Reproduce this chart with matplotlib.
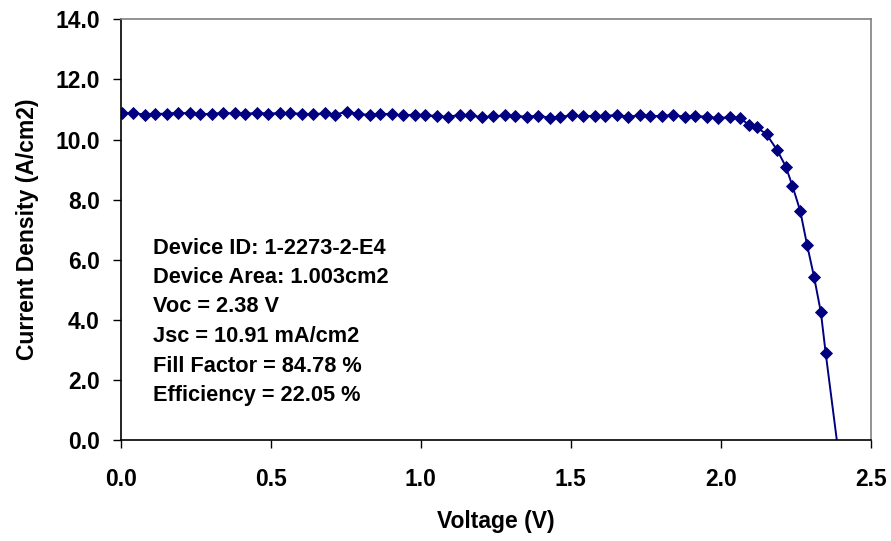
import matplotlib
matplotlib.use("Agg")
import matplotlib.pyplot as plt
from matplotlib.ticker import FormatStrFormatter

# --------------------------
# J-V DATA
# --------------------------
voltage = [0.005, 0.04, 0.08, 0.115, 0.155, 0.19, 0.23, 0.265, 0.305, 0.34,
           0.38, 0.415, 0.455, 0.49, 0.53, 0.565, 0.605, 0.64, 0.68, 0.715,
           0.755, 0.79, 0.83, 0.865, 0.905, 0.94, 0.98, 1.015, 1.055, 1.09,
           1.13, 1.165, 1.205, 1.24, 1.28, 1.315, 1.355, 1.39, 1.43, 1.465,
           1.505, 1.54, 1.58, 1.615, 1.655, 1.69, 1.73, 1.765, 1.805, 1.84,
           1.88, 1.915, 1.955, 1.99, 2.03, 2.065,
           2.094, 2.12, 2.153, 2.188, 2.217, 2.239, 2.265, 2.288, 2.311, 2.334,
           2.35, 2.387]
current = [10.87, 10.88, 10.83, 10.85, 10.86, 10.89, 10.87, 10.84, 10.86, 10.88,
           10.87, 10.85, 10.89, 10.86, 10.88, 10.87, 10.86, 10.84, 10.87, 10.83,
           10.93, 10.85, 10.82, 10.86, 10.84, 10.80, 10.83, 10.81, 10.78, 10.75,
           10.82, 10.80, 10.74, 10.77, 10.80, 10.78, 10.76, 10.79, 10.73, 10.76,
           10.80, 10.77, 10.79, 10.78, 10.82, 10.76, 10.80, 10.77, 10.79, 10.81,
           10.76, 10.79, 10.75, 10.72, 10.74, 10.72,
           10.48, 10.41, 10.17, 9.65, 9.10, 8.46, 7.63, 6.49, 5.44, 4.25,
           2.89, 0.0]

info_lines = ["Device ID: 1-2273-2-E4",
              "Device Area: 1.003cm2",
              "Voc = 2.38 V",
              "Jsc = 10.91 mA/cm2",
              "Fill Factor = 84.78 %",
              "Efficiency = 22.05 %"]

x_ticks = [0.0, 0.5, 1.0, 1.5, 2.0, 2.5]
y_ticks = [0.0, 2.0, 4.0, 6.0, 8.0, 10.0, 12.0, 14.0]

# --------------------------
# PLOT
# --------------------------
plt.rcParams["font.family"] = ["Liberation Sans", "DejaVu Sans"]
plt.rcParams["font.weight"] = "bold"

W, H = 891, 541
fig = plt.figure(figsize=(W / 100, H / 100), dpi=100)
ax = fig.add_axes([0.1355, 0.1867, 0.8417, 0.7776])

navy = "#000080"
ax.plot(voltage, current, color=navy, linewidth=1.4,
        marker="D", markersize=6.3, markerfacecolor=navy,
        markeredgecolor=navy, markeredgewidth=0.6,
        markevery=list(range(len(voltage) - 1)))

ax.set_xlim(0, 2.5)
ax.set_ylim(0, 14)
ax.set_xticks(x_ticks)
ax.set_yticks(y_ticks)
ax.xaxis.set_major_formatter(FormatStrFormatter("%.1f"))
ax.yaxis.set_major_formatter(FormatStrFormatter("%.1f"))

ax.spines["left"].set_color("black")
ax.spines["bottom"].set_color("black")
ax.spines["top"].set_color("#808080")
ax.spines["right"].set_color("#808080")
for s in ax.spines.values():
    s.set_linewidth(1.2)

ax.tick_params(axis="both", direction="out", length=6, width=1.0,
               labelsize=16.5, color="black")
ax.tick_params(axis="x", pad=14)
ax.tick_params(axis="y", pad=9)
for lbl in ax.get_xticklabels() + ax.get_yticklabels():
    lbl.set_fontweight("bold")

ax.set_xlabel("Voltage (V)", fontsize=16.5, fontweight="bold", labelpad=14)
ax.set_ylabel("Current Density (A/cm2)", fontsize=16.5, fontweight="bold", labelpad=12)

# device summary, placed in figure pixels measured from the top
for i, line in enumerate(info_lines):
    fig.text(153 / W, 1 - (248 + i * 29.5) / H, line, fontsize=15.7,
             fontweight="bold", va="center", ha="left")

fig.savefig("out.png", dpi=100)
